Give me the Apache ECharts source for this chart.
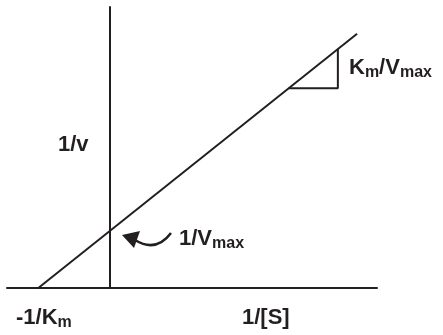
<!DOCTYPE html>
<html>
<head>
<meta charset="utf-8">
<script src="https://cdn.jsdelivr.net/npm/echarts@6/dist/echarts.min.js"></script>
<style>
  html, body { margin: 0; padding: 0; background: #fff; }
  #chart { width: 443px; height: 335px; }
</style>
</head>
<body>
<div id="chart"></div>
<script>
// Lineweaver-Burk plot, in arbitrary units (-1/Km = -1, 1/Vmax = 1, slope Km/Vmax = 1)
var lineX = [-1, 3.48]
var lineY = [0, 4.48]
// slope triangle under the line
var triX = [2.52, 3.21, 3.21]
var triY = [3.52, 3.52, 4.21]

var ink = '#231f20'
var font = '"Liberation Sans", Arial, sans-serif'

function pairs(xs, ys) {
  var out = []
  for (var i = 0; i < xs.length; i++) out.push([xs[i], ys[i]])
  return out
}

var richStyle = {
  b: { fontSize: 22, fontWeight: 'bold', fontFamily: font, color: ink, padding: [14, 0, 0, 0] },
  s: { fontSize: 16, fontWeight: 'bold', fontFamily: font, color: ink, padding: [24, 0, 0, 0] }
}

function label(x, y, text) {
  return {
    type: 'text',
    left: x,
    top: y,
    silent: true,
    style: { text: text, rich: richStyle, fill: ink }
  }
}

var chart = echarts.init(document.getElementById('chart'))
var option = {
  animation: false,
  grid: { left: 7, right: 66, top: 7, bottom: 47 },
  xAxis: {
    type: 'value',
    min: -1.44,
    max: 3.76,
    axisLine: { onZero: true, lineStyle: { color: ink, width: 2 } },
    axisTick: { show: false },
    axisLabel: { show: false },
    splitLine: { show: false }
  },
  yAxis: {
    type: 'value',
    min: 0,
    max: 4.95,
    axisLine: { show: true, onZero: true, lineStyle: { color: ink, width: 2 } },
    axisTick: { show: false },
    axisLabel: { show: false },
    splitLine: { show: false }
  },
  series: [
    {
      type: 'line',
      data: pairs(lineX, lineY),
      symbol: 'none',
      silent: true,
      lineStyle: { color: ink, width: 2 }
    },
    {
      type: 'line',
      data: pairs(triX, triY),
      symbol: 'none',
      silent: true,
      lineStyle: { color: ink, width: 2 }
    }
  ],
  graphic: [
    label(58, 134, '{b|1/v}'),
    label(16, 307, '{b|-1/K}{s|m}'),
    label(242, 307, '{b|1/[S]}'),
    label(179, 228, '{b|1/V}{s|max}'),
    label(349, 57, '{b|K}{s|m}{b|/V}{s|max}'),
    {
      type: 'bezierCurve',
      silent: true,
      shape: { x1: 171, y1: 233, cpx1: 156, cpy1: 253, x2: 135, y2: 240 },
      style: { stroke: ink, lineWidth: 2.5, fill: null }
    },
    {
      type: 'polygon',
      silent: true,
      shape: { points: [[122, 235], [140, 231], [134, 248]] },
      style: { fill: ink }
    }
  ]
}
chart.setOption(option)
</script>
</body>
</html>
